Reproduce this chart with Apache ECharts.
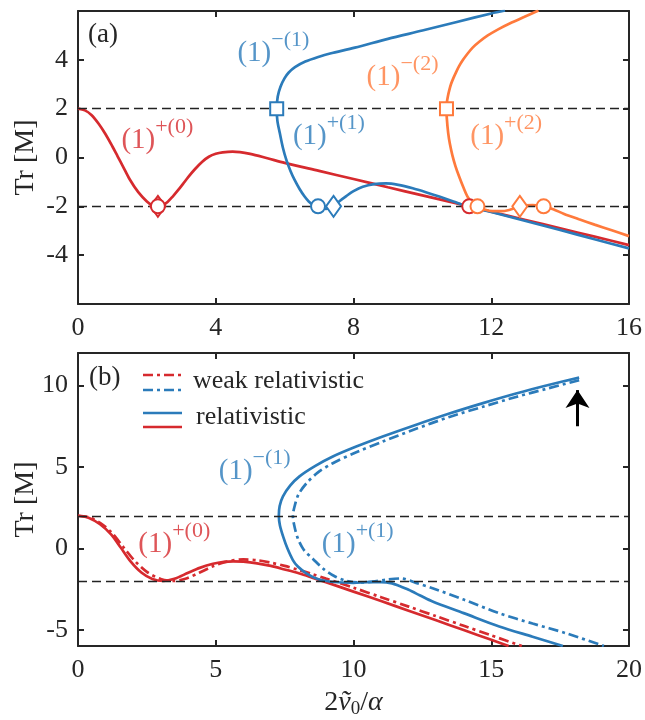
<!DOCTYPE html>
<html><head><meta charset="utf-8">
<script src="https://cdn.jsdelivr.net/npm/echarts@6/dist/echarts.min.js"></script>
<style>html,body{margin:0;padding:0;background:#fff}#c{width:645px;height:720px}</style>
</head><body><div id="c"></div>
<script>
const FONT = "'Liberation Serif','Times New Roman',serif";
const RED = '#D62A2E', BLUE = '#2B7BBA', ORANGE = '#FF7A3C', INK = '#262626';

// ---------- panel (a) ----------
const topXTicks = [0, 4, 8, 12, 16];
const topYTicks = [-4, -2, 0, 2, 4];
const topRed = [[0,2],[0.2,1.93],[0.39,1.74],[0.6,1.38],[0.8,0.95],[1.0,0.45],[1.15,0.05],[1.3,-0.35],[1.5,-0.89],[1.75,-1.42],[2.0,-1.8],[2.15,-1.95],[2.32,-2.02],[2.45,-1.96],[2.6,-1.82],[2.75,-1.6],[2.9,-1.35],[3.05,-1.08],[3.2,-0.8],[3.4,-0.47],[3.6,-0.18],[3.8,0.03],[4.0,0.15],[4.2,0.21],[4.49,0.24],[5.0,0.15],[5.5,-0.03],[6,-0.22],[7,-0.55],[8,-0.88],[9,-1.22],[10,-1.55],[11,-1.88],[12,-2.22],[13,-2.56],[14,-2.9],[15,-3.24],[16,-3.59]];
const topBlue = [[12.4,6.02],[12,5.9],[11,5.55],[10,5.2],[9,4.86],[8.04,4.5],[7.32,4.26],[7.0,4.13],[6.6,3.93],[6.3,3.7],[6.12,3.48],[6.0,3.25],[5.88,2.9],[5.8,2.5],[5.77,2.0],[5.79,1.5],[5.86,1.0],[5.95,0.4],[6.05,-0.1],[6.17,-0.55],[6.29,-0.92],[6.43,-1.28],[6.58,-1.6],[6.7,-1.8],[6.82,-1.93],[6.97,-2.0],[7.1,-2.08],[7.2,-2.1],[7.32,-2.06],[7.42,-2.0],[7.6,-1.78],[7.79,-1.58],[8.0,-1.38],[8.27,-1.2],[8.6,-1.09],[8.94,-1.06],[9.3,-1.12],[9.72,-1.26],[10.1,-1.42],[10.49,-1.6],[10.9,-1.8],[11.26,-1.98],[11.6,-2.1],[12,-2.23],[13,-2.6],[14,-2.97],[15,-3.35],[16,-3.72]];
const topOrange = [[13.37,6.02],[12.95,5.75],[12.55,5.5],[12.2,5.25],[11.9,5.0],[11.66,4.75],[11.46,4.5],[11.31,4.25],[11.18,4.0],[11.07,3.75],[10.98,3.5],[10.9,3.25],[10.83,3.0],[10.78,2.75],[10.74,2.5],[10.71,2.25],[10.7,2.0],[10.71,1.6],[10.75,1.0],[10.8,0.55],[10.87,0.1],[10.96,-0.35],[11.07,-0.79],[11.19,-1.22],[11.31,-1.6],[11.45,-1.85],[11.6,-2.0],[11.8,-2.13],[12.04,-2.2],[12.3,-2.2],[12.52,-2.15],[12.7,-2.07],[12.83,-2.0],[13.0,-1.96],[13.2,-1.95],[13.4,-1.97],[13.52,-2.0],[13.8,-2.12],[14.1,-2.3],[14.55,-2.53],[15,-2.75],[15.5,-2.98],[16,-3.22]];
const topRedCircles = [[2.32,-2],[11.36,-2]];
const topRedDiamonds = [[2.32,-2]];
const topBlueCircles = [[6.97,-2]];
const topBlueDiamonds = [[7.42,-2]];
const topBlueSquares = [[5.77,2]];
const topOrangeCircles = [[11.6,-2],[13.52,-2]];
const topOrangeDiamonds = [[12.83,-2]];
const topOrangeSquares = [[10.7,2]];

// ---------- panel (b) ----------
const botXTicks = [0, 5, 10, 15, 20];
const botYTicks = [-5, 0, 5, 10];
const botRedSolid = [[0,2],[0.4,1.87],[0.8,1.48],[1.2,0.86],[1.55,0.05],[1.9,-0.78],[2.3,-1.48],[2.7,-1.88],[3.09,-2.0],[3.5,-1.87],[4.0,-1.5],[4.42,-1.2],[4.9,-0.95],[5.3,-0.83],[5.63,-0.8],[6.0,-0.82],[6.5,-0.92],[7.0,-1.08],[7.5,-1.3],[8.04,-1.55],[8.5,-1.8],[9,-2.08],[10,-2.66],[11,-3.24],[12,-3.83],[13,-4.42],[14,-5.02],[15,-5.62],[15.63,-6]];
const botRedDash = [[0,2],[0.4,1.9],[0.8,1.57],[1.2,1.0],[1.66,0.05],[2.05,-0.75],[2.5,-1.45],[3.0,-1.88],[3.45,-2.0],[3.9,-1.87],[4.4,-1.5],[4.9,-1.1],[5.4,-0.82],[6.0,-0.68],[6.5,-0.73],[7.0,-0.88],[7.5,-1.08],[8.0,-1.32],[8.5,-1.58],[9,-1.86],[10,-2.42],[11,-3.0],[12,-3.58],[13,-4.17],[14,-4.76],[15,-5.35],[16.11,-6]];
const botBlueSolid = [[18.19,10.49],[17,10.0],[15.9,9.51],[14.7,8.92],[13.48,8.28],[12.2,7.55],[11.06,6.87],[10.1,6.25],[9.25,5.64],[8.6,5.05],[8.04,4.42],[7.7,3.85],[7.44,3.19],[7.32,2.6],[7.29,2.0],[7.33,1.4],[7.45,0.7],[7.6,0.0],[7.8,-0.72],[7.98,-1.12],[8.3,-1.55],[8.7,-1.88],[9.3,-2.07],[10,-2.12],[10.5,-2.08],[11.0,-2.07],[11.4,-2.15],[11.67,-2.32],[12.0,-2.55],[12.4,-2.88],[12.87,-3.27],[14,-3.98],[15.29,-4.8],[16.5,-5.43],[17.6,-6]];
const botBlueDash = [[18.19,10.33],[17,9.8],[15.9,9.3],[14.7,8.7],[13.48,8.07],[12.2,7.3],[11.06,6.56],[10.1,5.9],[9.25,5.23],[8.7,4.65],[8.29,3.99],[8.0,3.3],[7.86,2.57],[7.8,2.0],[7.85,1.4],[7.98,0.6],[8.2,-0.1],[8.53,-0.65],[8.9,-1.25],[9.3,-1.7],[9.7,-1.98],[10.2,-2.1],[10.7,-2.05],[11.2,-1.92],[11.73,-1.85],[12.27,-2.12],[12.87,-2.45],[14,-3.15],[15.29,-3.99],[16.5,-4.62],[17.7,-5.21],[19.09,-6]];
const botArrow = [[18.13,7.5],[18.13,9.72]];

// ---------- annotations ----------
const topLabels = [
  {pos:[1.26,0.72], base:'(1)', sup:'+(0)', c:'r'},
  {pos:[4.63,4.28], base:'(1)', sup:'\u2212(1)', c:'b'},
  {pos:[6.24,0.88], base:'(1)', sup:'+(1)', c:'b'},
  {pos:[8.38,3.3], base:'(1)', sup:'\u2212(2)', c:'o'},
  {pos:[11.39,0.88], base:'(1)', sup:'+(2)', c:'o'}
];
const botLabels = [
  {pos:[2.19,0.26], base:'(1)', sup:'+(0)', c:'r'},
  {pos:[5.11,4.74], base:'(1)', sup:'\u2212(1)', c:'b'},
  {pos:[8.85,0.26], base:'(1)', sup:'+(1)', c:'b'}
];

const COLORS = {r:RED, b:BLUE, o:ORANGE};
const rich = {};
Object.keys(COLORS).forEach(k => {
  rich[k+'B'] = {fontFamily:FONT, fontSize:29, color:COLORS[k], lineHeight:48, verticalAlign:'middle'};
  rich[k+'S'] = {fontFamily:FONT, fontSize:22, color:COLORS[k], lineHeight:24, verticalAlign:'top'};
});

function axisPair(gi, min, max, ticks, dim) {
  const common = {
    gridIndex: gi, type: 'value', min: min, max: max,
    axisLine: {show: true, onZero: false, lineStyle: {color: INK, width: 2}},
    axisTick: {show: true, inside: true, length: 6, customValues: ticks, lineStyle: {color: INK, width: 2}},
    splitLine: {show: false}
  };
  const main = Object.assign({}, common, {
    position: dim === 'x' ? 'bottom' : 'left',
    axisLabel: {show: true, customValues: ticks, color: INK, fontFamily: FONT, fontSize: 26, margin: dim === 'x' ? 11 : 10,
      formatter: v => String(v)}
  });
  const mirror = Object.assign({}, common, {
    position: dim === 'x' ? 'top' : 'right',
    axisLabel: {show: false}
  });
  return [main, mirror];
}

const xA = axisPair(0, 0, 16, topXTicks, 'x').concat(axisPair(1, 0, 20, botXTicks, 'x'));
const yA = axisPair(0, -6, 6, topYTicks, 'y').concat(axisPair(1, -6, 12, botYTicks, 'y'));
[yA[0], yA[2]].forEach(a => {
  a.name = 'Tr [M]'; a.nameLocation = 'middle'; a.nameGap = 38; a.nameMoveOverlap = false;
  a.nameTextStyle = {fontFamily: FONT, fontSize: 28, color: INK};
});
xA[2].name = '{n|2}{i|\u1E7D}{s|0}{n|/}{i|\u03B1}';
xA[2].nameLocation = 'middle';
xA[2].nameGap = 41;
xA[2].nameMoveOverlap = false;
xA[2].nameTextStyle = {rich: {
  n: {fontFamily: FONT, fontSize: 28, color: INK, lineHeight: 32},
  i: {fontFamily: FONT, fontSize: 28, fontStyle: 'italic', color: INK, lineHeight: 32},
  s: {fontFamily: FONT, fontSize: 19, color: INK, lineHeight: 18, verticalAlign: 'bottom'}
}};

function lineS(xi, yi, data, color, dashed, extra) {
  return Object.assign({
    type: 'line', xAxisIndex: xi, yAxisIndex: yi, data: data, showSymbol: false, symbol: 'none',
    smooth: 0.3, clip: true, animation: false,
    lineStyle: {color: color, width: 2.7, type: dashed ? [10, 4, 3, 4] : 'solid', cap: 'butt'}
  }, extra || {});
}
function markS(xi, yi, data, color, symbol, size) {
  return {type: 'scatter', xAxisIndex: xi, yAxisIndex: yi, data: data, symbol: symbol, symbolSize: size,
    itemStyle: {color: '#fff', borderColor: color, borderWidth: 2, opacity: 1}, z: 5, animation: false, silent: true};
}
function annoS(xi, yi, list) {
  return {type: 'scatter', xAxisIndex: xi, yAxisIndex: yi, symbolSize: 0, z: 6, animation: false, silent: true,
    data: list.map(d => ({value: d.pos, label: {formatter: '{' + d.c + 'B|' + d.base + '}{' + d.c + 'S|' + d.sup + '}'}})),
    label: {show: true, position: 'right', distance: 0, rich: rich}};
}
const guideLines = {silent: true, symbol: 'none', animation: false, label: {show: false},
  lineStyle: {color: '#222', width: 1.4, type: [9, 5]}, data: [{yAxis: 2}, {yAxis: -2}]};

const series = [
  lineS(0, 0, topRed, RED, false, {markLine: guideLines}),
  lineS(0, 0, topBlue, BLUE, false),
  lineS(0, 0, topOrange, ORANGE, false),
  markS(0, 0, topRedDiamonds, RED, 'diamond', [15, 21]),
  markS(0, 0, topRedCircles, RED, 'circle', 14),
  markS(0, 0, topBlueCircles, BLUE, 'circle', 14),
  markS(0, 0, topBlueDiamonds, BLUE, 'diamond', [15, 21]),
  markS(0, 0, topBlueSquares, BLUE, 'rect', 13),
  markS(0, 0, topOrangeCircles, ORANGE, 'circle', 14),
  markS(0, 0, topOrangeDiamonds, ORANGE, 'diamond', [15, 21]),
  markS(0, 0, topOrangeSquares, ORANGE, 'rect', 13),
  annoS(0, 0, topLabels),
  lineS(2, 2, botRedDash, RED, true, {markLine: guideLines}),
  lineS(2, 2, botRedSolid, RED, false),
  lineS(2, 2, botBlueDash, BLUE, true),
  lineS(2, 2, botBlueSolid, BLUE, false, {markLine: {silent: true, animation: false, label: {show: false},
    symbol: ['none', 'arrow'], symbolSize: 18, lineStyle: {color: '#000', width: 3, type: 'solid'},
    data: [[{coord: botArrow[0]}, {coord: botArrow[1]}]]}}),
  annoS(2, 2, botLabels)
];

const txt = (t, x, y, size) => ({type: 'text', x: x, y: y, silent: true,
  style: {text: t, fontFamily: FONT, fontSize: size, fill: INK, verticalAlign: 'middle', align: 'left'}});
const seg = (x1, y, x2, color, dash) => ({type: 'line', silent: true, shape: {x1: x1, y1: y, x2: x2, y2: y},
  style: {stroke: color, lineWidth: 2.7, lineDash: dash || null}});

const chart = echarts.init(document.getElementById('c'));
chart.setOption({
  backgroundColor: '#fff',
  animation: false,
  grid: [{left: 78, top: 11, width: 552, height: 293}, {left: 78, top: 353, width: 552, height: 294}],
  xAxis: xA,
  yAxis: yA,
  series: series,
  graphic: [
    txt('(a)', 88, 35, 27),
    txt('(b)', 89, 378, 27),
    seg(143, 375, 182, RED, [10, 4, 3, 4]),
    seg(143, 390, 182, BLUE, [10, 4, 3, 4]),
    seg(143, 413, 182, BLUE),
    seg(143, 427, 182, RED),
    txt('weak relativistic', 193, 381, 26),
    txt('relativistic', 196, 417, 26)
  ]
});
</script></body></html>
